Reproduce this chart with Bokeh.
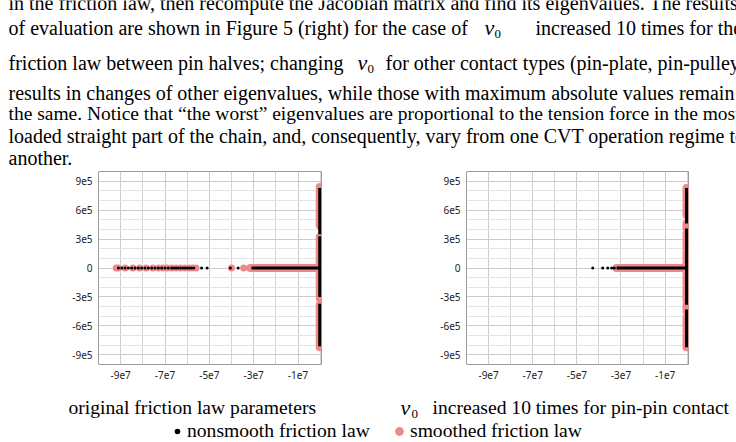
from bokeh.plotting import figure
from bokeh.layouts import column, row
from bokeh.models import FixedTicker, Legend, LegendItem, Range1d, ColumnDataSource
from bokeh.core.properties import value
from bokeh.embed import file_html
from bokeh.resources import INLINE

SERIF = "Liberation Serif"
SANS = "Noto Sans"
PINK = "#f08888"
BLACK = "#000000"
INK = "#000000"

# ---------------- text of the page ----------------
para_lines = [
    "in the friction law, then recompute the Jacobian matrix and find its eigenvalues. The results",
    "of evaluation are shown in Figure 5 (right) for the case of",
    "increased 10 times for the",
    "friction law between pin halves; changing",
    "for other contact types (pin-plate, pin-pulley)",
    "results in changes of other eigenvalues, while those with maximum absolute values remain",
    "the same. Notice that \u201cthe worst\u201d eigenvalues are proportional to the tension force in the most",
    "loaded straight part of the chain, and, consequently, vary from one CVT operation regime to",
    "another.",
]
caption_left = "original friction law parameters"
caption_right = "increased 10 times for pin-pin contact"
legend_labels = ["nonsmooth friction law", "smoothed friction law"]

# ---------------- axes ----------------
x_tick_values = [-9e7, -7e7, -5e7, -3e7, -1e7]
x_tick_labels = ["-9e7", "-7e7", "-5e7", "-3e7", "-1e7"]
x_minor_values = [-1e8, -8e7, -6e7, -4e7, -2e7, 0]
y_tick_values = [9e5, 6e5, 3e5, 0, -3e5, -6e5, -9e5]
y_tick_labels = ["9e5", "6e5", "3e5", "0", "-3e5", "-6e5", "-9e5"]
y_minor_values = [1e6, 8e5, 7e5, 5e5, 4e5, 2e5, 1e5, -1e5, -2e5, -4e5, -5e5, -7e5, -8e5, -1e6]

# ---------------- data: left plot (original parameters) ----------------
# isolated eigenvalues on the real axis (imag = 0)
left_nonsmooth_x = [-9.1e7, -8.95e7, -8.8e7, -8.65e7, -8.5e7, -8.35e7, -8.2e7, -8.05e7,
                    -7.9e7, -7.75e7, -7.6e7, -7.45e7, -7.3e7, -7.15e7, -7.0e7, -6.85e7,
                    -6.7e7, -6.6e7, -6.5e7, -6.4e7, -6.3e7, -6.2e7, -6.1e7, -6.0e7,
                    -5.9e7, -5.8e7, -5.7e7, -5.35e7, -5.1e7, -4.05e7, -3.7e7]
left_smoothed_x = [-9.2e7, -9.1e7, -8.8e7, -8.45e7, -8.15e7, -7.85e7, -7.55e7, -7.3e7,
                   -7.1e7, -6.9e7, -6.7e7, -6.5e7, -6.3e7, -6.1e7, -5.9e7, -5.75e7,
                   -5.6e7, -4.0e7, -3.45e7]
# dense clusters of eigenvalues (start, end)
left_nonsmooth_real_band = [(-3.1e7, 0.0)]
left_smoothed_real_band = [(-3.15e7, 0.0)]
left_axis_real = -0.02e7
left_nonsmooth_imag_bands = [(3.5e5, 8.3e5), (-3.0e5, 3.3e5), (-8.1e5, -3.7e5)]
left_smoothed_imag_bands = [(4.4e5, 8.4e5), (-3.1e5, 3.2e5), (-8.2e5, -3.8e5)]

# ---------------- data: right plot (v0 increased 10 times) ----------------
right_nonsmooth_x = [-4.28e7, -3.83e7, -3.6e7, -3.42e7, -3.3e7]
right_smoothed_x = []
right_nonsmooth_real_band = [(-3.2e7, 0.0)]
right_smoothed_real_band = [(-3.2e7, 0.0)]
right_axis_real = -0.03e7
right_nonsmooth_imag_bands = [(4.6e5, 8.3e5), (-3.8e5, 4.1e5), (-8.2e5, -4.3e5)]
right_smoothed_imag_bands = [(5.5e5, 8.3e5), (4.1e5, 4.6e5), (-3.3e5, 3.6e5), (-4.5e5, -3.8e5), (-8.2e5, -5.1e5)]


def text_fig(width, height, y0, y1):
    f = figure(width=width, height=height, x_range=Range1d(0, width), y_range=Range1d(y1, y0),
               toolbar_location=None, output_backend="svg", min_border=0)
    f.axis.visible = False
    f.grid.visible = False
    f.outline_line_color = None
    f.background_fill_color = None
    f.border_fill_color = None
    return f


def eig_plot(left_border, right_border, frame_w, iso_ns, iso_sm, band_ns, band_sm, axis_re,
             imag_ns, imag_sm):
    p = figure(frame_width=frame_w, frame_height=193, x_range=Range1d(-1.0e8, 0.06e7),
               y_range=Range1d(-1.0e6, 1.0e6), toolbar_location=None, output_backend="svg",
               min_border_left=left_border, min_border_right=right_border,
               min_border_top=1, min_border_bottom=20)
    p.outline_line_color = "#9a9a9a"
    p.xaxis.ticker = FixedTicker(ticks=x_tick_values, minor_ticks=x_minor_values)
    p.yaxis.ticker = FixedTicker(ticks=y_tick_values, minor_ticks=y_minor_values)
    p.xaxis.major_label_overrides = {v: s for v, s in zip(x_tick_values, x_tick_labels)}
    p.yaxis.major_label_overrides = {v: s for v, s in zip(y_tick_values, y_tick_labels)}
    for ax in (p.xaxis[0], p.yaxis[0]):
        ax.axis_line_color = None
        ax.major_tick_line_color = None
        ax.minor_tick_line_color = None
        ax.major_tick_out = 0
        ax.major_tick_in = 0
        ax.minor_tick_out = 0
        ax.minor_tick_in = 0
        ax.major_label_text_font = SANS
        ax.major_label_text_font_size = "10px"
        ax.major_label_text_color = "#222222"
    p.xaxis.major_label_standoff = 6
    p.yaxis.major_label_standoff = 6
    p.xgrid.grid_line_color = "#cccccc"
    p.xgrid.minor_grid_line_color = "#d4d4d4"
    p.ygrid.grid_line_color = "#cccccc"
    p.ygrid.minor_grid_line_color = "#e4e4e4"

    # smoothed (pink) underneath
    p.segment(x0=[b[0] for b in band_sm], y0=[0] * len(band_sm),
              x1=[b[1] for b in band_sm], y1=[0] * len(band_sm),
              line_color=PINK, line_width=8, line_cap="round")
    p.segment(x0=[axis_re] * len(imag_sm), y0=[b[0] for b in imag_sm],
              x1=[axis_re] * len(imag_sm), y1=[b[1] for b in imag_sm],
              line_color=PINK, line_width=8, line_cap="round")
    if iso_sm:
        p.scatter(x=iso_sm, y=[0] * len(iso_sm), size=7, color=PINK, line_color=None)
    # nonsmooth (black) on top
    p.segment(x0=[b[0] for b in band_ns], y0=[0] * len(band_ns),
              x1=[b[1] for b in band_ns], y1=[0] * len(band_ns),
              line_color=BLACK, line_width=3)
    p.segment(x0=[axis_re] * len(imag_ns), y0=[b[0] for b in imag_ns],
              x1=[axis_re] * len(imag_ns), y1=[b[1] for b in imag_ns],
              line_color=BLACK, line_width=3)
    p.scatter(x=iso_ns, y=[0] * len(iso_ns), size=3, color=BLACK, line_color=None)
    return p


# ---------------- top paragraph ----------------
top = text_fig(736, 170, 0, 170)
para_src = ColumnDataSource(dict(
    x=[8, 8, 535, 8, 385, 8, 8, 8, 8],
    y=[2, 27, 27, 62, 62, 92, 113, 135, 157],
    text=para_lines,
    size=["20px", "20px", "20px", "20px", "20px", "20px", "19.5px", "20px", "20px"],
))
top.text(x="x", y="y", text="text", source=para_src, text_font=value(SERIF),
         text_font_size="size", text_baseline="alphabetic", text_color=INK)
top.text(x=[484, 357], y=[27, 62], text=["v", "v"], text_font=value(SERIF),
         text_font_size="22px", text_font_style="italic", text_baseline="alphabetic",
         text_color=INK)
top.text(x=[494, 367], y=[33, 68], text=["0", "0"], text_font=value(SERIF),
         text_font_size="13px", text_baseline="alphabetic", text_color=INK)

# ---------------- plots ----------------
p1 = eig_plot(98, 49, 223, left_nonsmooth_x, left_smoothed_x, left_nonsmooth_real_band,
              left_smoothed_real_band, left_axis_real, left_nonsmooth_imag_bands,
              left_smoothed_imag_bands)
p2 = eig_plot(96, 48, 222, right_nonsmooth_x, right_smoothed_x, right_nonsmooth_real_band,
              right_smoothed_real_band, right_axis_real, right_nonsmooth_imag_bands,
              right_smoothed_imag_bands)

# ---------------- captions and legend ----------------
bottom = text_fig(736, 58, 384, 442)
bottom.text(x=[68, 432], y=[407, 407], text=[caption_left, caption_right],
            text_font=value(SERIF), text_font_size="19.6px", text_baseline="alphabetic",
            text_color=INK)
bottom.text(x=[400], y=[407], text=["v"], text_font=value(SERIF), text_font_size="22px",
            text_font_style="italic", text_baseline="alphabetic", text_color=INK)
bottom.text(x=[411], y=[413], text=["0"], text_font=value(SERIF), text_font_size="13px",
            text_baseline="alphabetic", text_color=INK)
# legend proxies, placed outside the visible range
r_ns = bottom.scatter(x=[-100], y=[500], size=5, color=BLACK, line_color=None)
r_sm = bottom.scatter(x=[-100], y=[500], size=10, color=PINK, line_color=None)
legend_common = dict(orientation="horizontal", padding=0, margin=0,
                     label_text_font=SERIF, label_text_font_size="19.6px",
                     label_text_color=INK, border_line_color=None,
                     background_fill_alpha=0)
legend_ns = Legend(items=[LegendItem(label=legend_labels[0], renderers=[r_ns])],
                   location=(170, 0), glyph_width=14, glyph_height=14, label_standoff=3,
                   label_height=22, **legend_common)
legend_sm = Legend(items=[LegendItem(label=legend_labels[1], renderers=[r_sm])],
                   location=(388, 0), glyph_width=22, glyph_height=22, label_standoff=0,
                   label_height=22, **legend_common)
bottom.add_layout(legend_ns, "center")
bottom.add_layout(legend_sm, "center")

layout = column(top, row(p1, p2, spacing=0), bottom, spacing=0)
open("out.html", "w").write(file_html(layout, INLINE))
